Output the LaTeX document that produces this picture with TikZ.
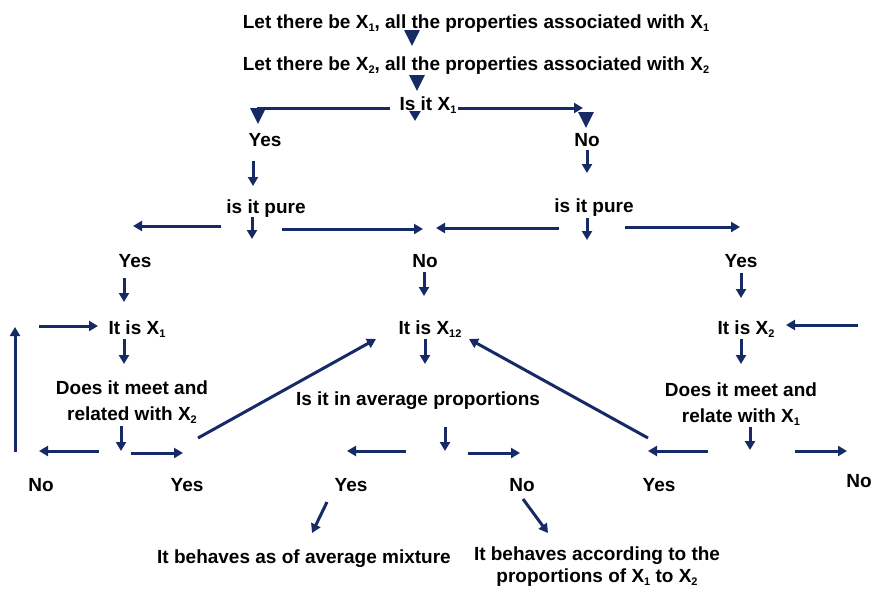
\documentclass[tikz,border=0pt]{standalone}
\usepackage{fontspec}
\setmainfont{Liberation Sans}
\usetikzlibrary{arrows.meta}
\definecolor{navy}{RGB}{22,42,102}
\newcommand\xs[1]{X\raisebox{-3pt}{\fontsize{11}{11}\selectfont #1}}
\tikzset{
  txt/.style={inner sep=0pt, anchor=base, align=center,
    font=\fontsize{19}{26}\selectfont\bfseries},
  arr/.style={navy, line width=3pt, -{Triangle[length=9pt,width=10pt]}},
  bigarr/.style={navy, line width=3pt, -{Triangle[length=16pt,width=15pt]}},
}

\begin{document}
\begin{tikzpicture}[x=1pt,y=-1pt]
  \useasboundingbox (0,0) rectangle (872,589);

  % questions and answers
  \node[txt] (let1) at (476,28) {Let there be \xs{1}, all the properties associated with \xs{1}};
  \node[txt] (let2) at (476,70) {Let there be \xs{2}, all the properties associated with \xs{2}};
  \node[txt] (isx1) at (428,110) {Is it \xs{1}};
  \node[txt] (yes1) at (265,146) {Yes};
  \node[txt] (no1) at (587,146) {No};
  \node[txt] (pure1) at (266,213) {is it pure};
  \node[txt] (pure2) at (594,212) {is it pure};
  \node[txt] (yes2) at (135,267) {Yes};
  \node[txt] (no2) at (425,267) {No};
  \node[txt] (yes3) at (741,267) {Yes};
  \node[txt] (itx1) at (137,334) {It is \xs{1}};
  \node[txt] (itx12) at (430,334) {It is \xs{12}};
  \node[txt] (itx2) at (746,334) {It is \xs{2}};
  \node[txt] (meet1) at (132,420) {Does it meet and\\related with \xs{2}};
  \node[txt] (meet2) at (741,422) {Does it meet and\\relate with \xs{1}};
  \node[txt] (avg) at (418,405) {Is it in average proportions};
  \node[txt] (no3) at (41,491) {No};
  \node[txt] (yes4) at (187,491) {Yes};
  \node[txt] (yes5) at (351,491) {Yes};
  \node[txt] (no4) at (522,491) {No};
  \node[txt] (yes6) at (659,491) {Yes};
  \node[txt] (no5) at (859,487) {No};
  \node[txt] (mix) at (304,563) {It behaves as of average mixture};
  \node[txt, font=\fontsize{19}{22}\selectfont\bfseries] (prop) at (597,582)
    {It behaves according to the\\proportions of \xs{1} to \xs{2}};

  % big heads at the top
  \foreach \nm/\sx/\sy/\ex/\ey in {top1/412/30/412/46, top2/417/75/417/91, no1h/586/112/586/128}{
    \coordinate (\nm-s) at (\sx,\sy);
    \coordinate (\nm-e) at (\ex,\ey);
    \draw[bigarr] (\nm-s) -- (\nm-e);
  }
  \coordinate (isx1-s) at (415,111);
  \coordinate (isx1-e) at (415,121);
  \draw[navy, line width=3pt, -{Triangle[length=10pt,width=11pt]}] (isx1-s) -- (isx1-e);
  \coordinate (yes1h-s) at (390,108);
  \coordinate (yes1h-e) at (258,124);
  \draw[bigarr] (yes1h-s) -| (yes1h-e);

  % all the small arrows
  \foreach \nm/\sx/\sy/\ex/\ey in {
      no1r/458/108/583/108, yes1d/253/161/253/186, no1d/587/150/587/173,
      pure1d/252/217/252/239, pure1l/221/226/133/226, pure1r/282/229/423/229,
      pure2d/587/218/587/240, pure2l/559/228/436/228, pure2r/625/227/740/227,
      yes2d/124/278/124/302, no2d/424/272/424/296, yes3d/741/273/741/298,
      itx1in/39/326/98/326, noup/15/452/15/327, itx1d/124/339/124/364,
      itx12d/425/339/425/364, itx2d/741/339/741/364, itx2in/858/325/786/325,
      meet1d/121/426/121/451, meet1l/99/451/39/451, meet1r/131/453/183/453,
      yes4up/198/438/376/339, avgl/406/451/347/451, avgd/445/427/445/451,
      avgr/468/453/520/453, meet2d/750/427/750/450, meet2l/708/451/648/451,
      meet2r/795/451/847/451, yes6up/648/438/469/339,
      yes5d/327/502/312/533, no4d/523/499/548/533}{
    \coordinate (\nm-s) at (\sx,\sy);
    \coordinate (\nm-e) at (\ex,\ey);
    \draw[arr] (\nm-s) -- (\nm-e);
  }
\end{tikzpicture}
\end{document}
